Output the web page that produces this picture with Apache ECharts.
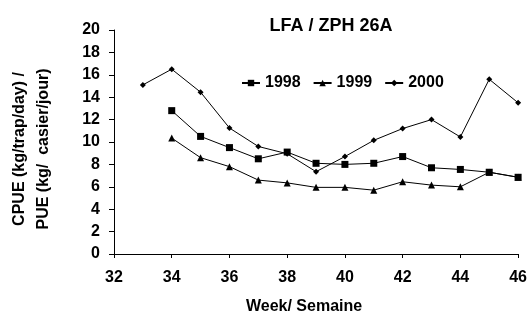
<!DOCTYPE html>
<html><head><meta charset="utf-8">
<script src="https://cdn.jsdelivr.net/npm/echarts@6/dist/echarts.min.js"></script>
<style>html,body{margin:0;padding:0;background:#fff}#c{width:530px;height:320px}</style>
</head><body><div id="c"></div>
<script>
var weeks1998 = [34,35,36,37,38,39,40,41,42,43,44,45,46];
var values1998 = [12.8,10.5,9.5,8.5,9.1,8.1,8.0,8.1,8.7,7.7,7.55,7.3,6.85];
var weeks1999 = [34,35,36,37,38,39,40,41,42,43,44,45,46];
var values1999 = [10.35,8.6,7.8,6.6,6.35,5.95,5.95,5.7,6.45,6.15,6.0,7.3,6.85];
var weeks2000 = [33,34,35,36,37,38,39,40,41,42,43,44,45,46];
var values2000 = [15.1,16.5,14.45,11.25,9.6,8.95,7.35,8.7,10.15,11.2,12.0,10.45,15.6,13.5];
var seriesNames = ['1998','1999','2000'];
var titleText = 'LFA / ZPH 26A';
var xName = 'Week/ Semaine';
var yName = 'CPUE (kg/trap/day) /\nPUE (kg/  casier/jour)';

function pairs(xs, ys){ return xs.map(function(x,i){ return [x, ys[i]]; }); }
var font = 'Liberation Sans, Arial, sans-serif';
var chart = echarts.init(document.getElementById('c'), null, {renderer:'canvas'});
var lineStyle = {color:'#000', width:1};
var itemStyle = {color:'#000'};
chart.setOption({
  animation:false,
  backgroundColor:'#fff',
  title:{text:titleText, left:326, top:12, textAlign:'center',
    textStyle:{fontFamily:font, fontWeight:'bold', fontSize:18, color:'#000'}},
  legend:{left:236, top:70, itemWidth:18, itemHeight:8, itemGap:12,
    textStyle:{fontFamily:font, fontWeight:'bold', fontSize:16, color:'#000'},
    data:seriesNames},
  grid:{left:110, right:10, top:30, bottom:64, containLabel:false},
  xAxis:{type:'value', min:32, max:46, interval:2,
    name:xName, nameLocation:'middle', nameGap:45,
    nameTextStyle:{fontFamily:font, fontWeight:'bold', fontSize:16, color:'#000', padding:[0,24,0,0]},
    axisLine:{lineStyle:{color:'#000', width:1}},
    axisTick:{show:true, inside:false, length:4, lineStyle:{color:'#000'}},
    axisLabel:{margin:16, fontFamily:font, fontWeight:'bold', fontSize:16, color:'#000'},
    splitLine:{show:false}},
  yAxis:{type:'value', min:0, max:20, interval:2,
    name:yName, nameLocation:'middle', nameGap:58,
    nameTextStyle:{fontFamily:font, fontWeight:'bold', fontSize:16, color:'#000', lineHeight:24, padding:[0,14,0,0]},
    axisLine:{show:true, lineStyle:{color:'#000', width:1}},
    axisTick:{show:true, inside:false, length:5, lineStyle:{color:'#000'}},
    axisLabel:{margin:14, fontFamily:font, fontWeight:'bold', fontSize:16, color:'#000'},
    splitLine:{show:false}},
  series:[
    {name:seriesNames[0], type:'line', data:pairs(weeks1998, values1998), symbol:'rect', symbolSize:7,
      lineStyle:lineStyle, itemStyle:itemStyle},
    {name:seriesNames[1], type:'line', data:pairs(weeks1999, values1999), symbol:'triangle', symbolSize:7,
      lineStyle:lineStyle, itemStyle:itemStyle},
    {name:seriesNames[2], type:'line', data:pairs(weeks2000, values2000), symbol:'diamond', symbolSize:6,
      lineStyle:lineStyle, itemStyle:itemStyle}
  ]
});
</script></body></html>
